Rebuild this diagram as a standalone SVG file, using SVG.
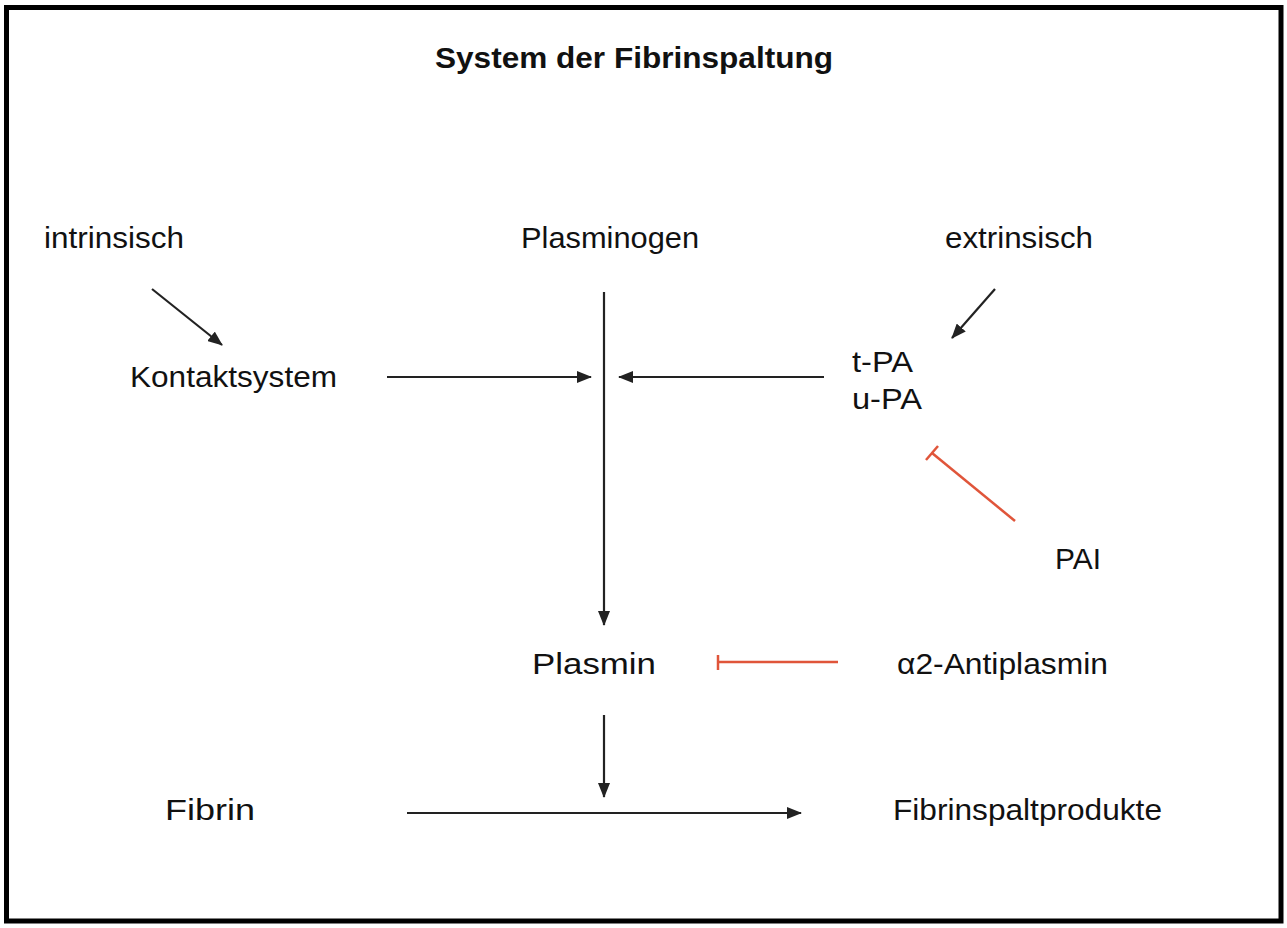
<svg xmlns="http://www.w3.org/2000/svg" width="1287" height="928" viewBox="0 0 1287 928">
<style>
text{font-family:"Liberation Sans",Arial,Helvetica,sans-serif;font-size:30px;fill:#111}
.title{font-weight:bold}
.ln{stroke:#222;stroke-width:2.2;fill:none}
.inh{stroke:#e0553a;stroke-width:2.5;fill:none}
</style>
<defs>
<marker id="arr" viewBox="0 0 15 12" refX="14" refY="6" markerWidth="15" markerHeight="12" markerUnits="userSpaceOnUse" orient="auto">
<path d="M0,0 L15,6 L0,12 z" fill="#222"/>
</marker>
</defs>
<rect x="6.5" y="7.5" width="1274.5" height="913.5" fill="#fff" stroke="#000" stroke-width="5"/>
<g id="title"><text class="title" x="435" y="68" textLength="398" lengthAdjust="spacingAndGlyphs">System der Fibrinspaltung</text></g>
<g id="intrinsisch"><text x="44" y="248" textLength="140" lengthAdjust="spacingAndGlyphs">intrinsisch</text></g>
<g id="plasminogen"><text x="521" y="248" textLength="178" lengthAdjust="spacingAndGlyphs">Plasminogen</text></g>
<g id="extrinsisch"><text x="945" y="248" textLength="148" lengthAdjust="spacingAndGlyphs">extrinsisch</text></g>
<g id="kontaktsystem"><text x="130" y="387" textLength="207" lengthAdjust="spacingAndGlyphs">Kontaktsystem</text></g>
<g id="pa"><text x="852" y="372" textLength="61" lengthAdjust="spacingAndGlyphs">t-PA</text><text x="852" y="409" textLength="70" lengthAdjust="spacingAndGlyphs">u-PA</text></g>
<g id="pai"><text x="1055" y="569" textLength="46" lengthAdjust="spacingAndGlyphs">PAI</text></g>
<g id="plasmin"><text x="532" y="674" textLength="124" lengthAdjust="spacingAndGlyphs">Plasmin</text></g>
<g id="antiplasmin"><text x="897" y="674" textLength="211" lengthAdjust="spacingAndGlyphs">α2-Antiplasmin</text></g>
<g id="fibrin"><text x="165" y="820" textLength="90" lengthAdjust="spacingAndGlyphs">Fibrin</text></g>
<g id="fsp"><text x="893" y="820" textLength="269" lengthAdjust="spacingAndGlyphs">Fibrinspaltprodukte</text></g>
<g id="connectors">
<line class="ln" x1="152" y1="289" x2="222" y2="345" marker-end="url(#arr)"/>
<line class="ln" x1="995" y1="289" x2="952" y2="338" marker-end="url(#arr)"/>
<line class="ln" x1="604" y1="292" x2="604" y2="625" marker-end="url(#arr)"/>
<line class="ln" x1="387" y1="377" x2="591" y2="377" marker-end="url(#arr)"/>
<line class="ln" x1="824" y1="377" x2="619" y2="377" marker-end="url(#arr)"/>
<line class="ln" x1="604" y1="715" x2="604" y2="797" marker-end="url(#arr)"/>
<line class="ln" x1="407" y1="813" x2="801" y2="813" marker-end="url(#arr)"/>
<line class="inh" x1="1015" y1="521" x2="932" y2="453"/>
<line class="inh" x1="926" y1="460" x2="938" y2="446"/>
<line class="inh" x1="838" y1="662" x2="718" y2="662"/>
<line class="inh" x1="718" y1="655" x2="718" y2="670"/>
</g>
</svg>
